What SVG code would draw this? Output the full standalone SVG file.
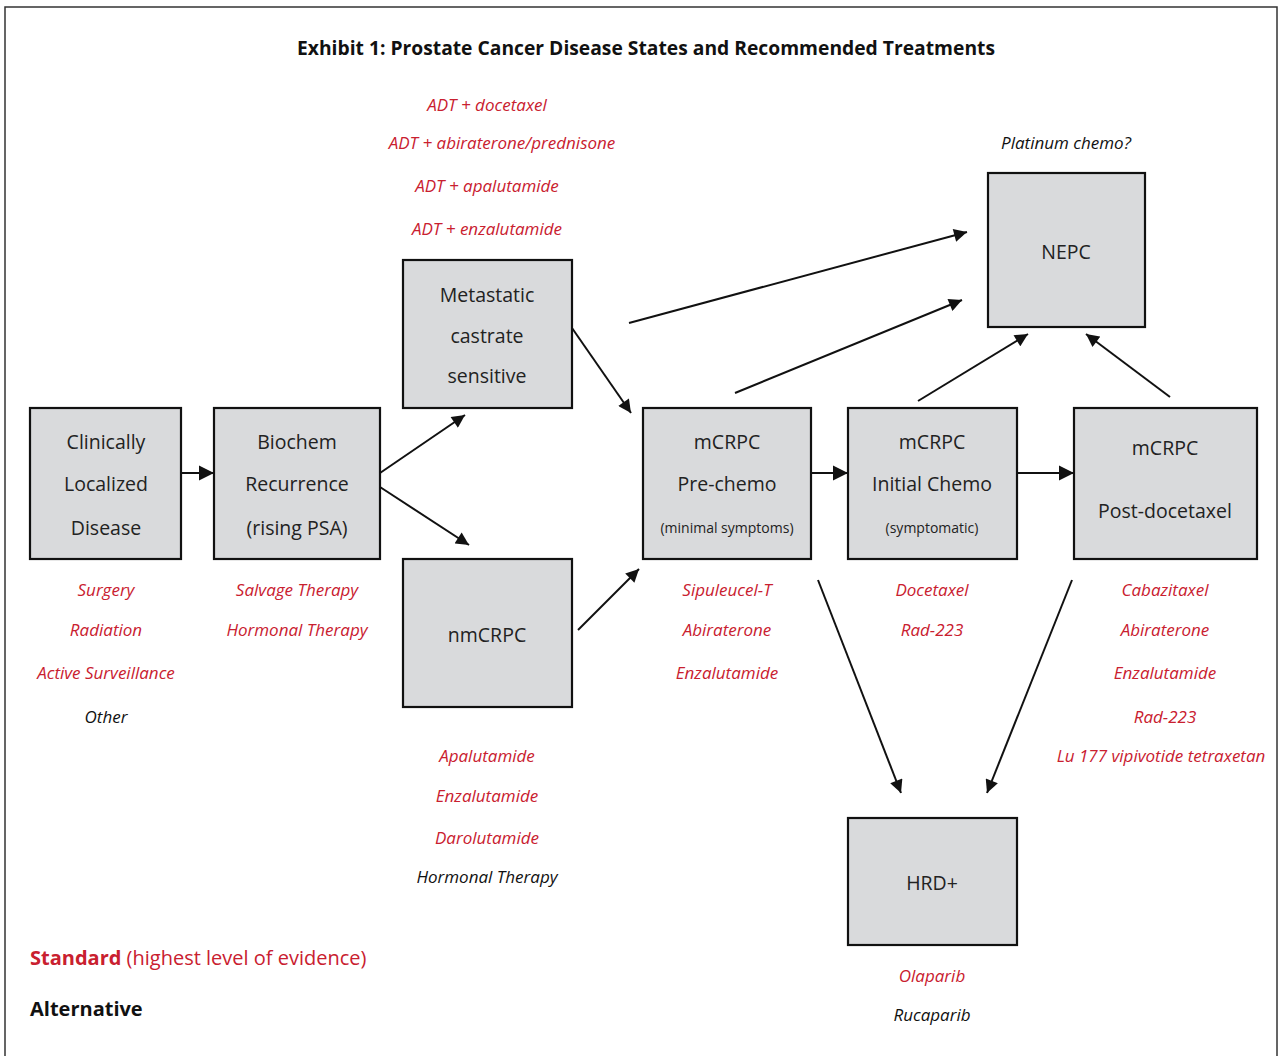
<svg xmlns="http://www.w3.org/2000/svg" width="1278" height="1056" viewBox="0 0 1278 1056">
<style>
.frame{fill:#fff;stroke:#333;stroke-width:1.5}
.box{fill:#d9dadc;stroke:#111;stroke-width:2.2}
.bt{font-family:"Open Sans","Liberation Sans",sans-serif;font-size:19.5px;fill:#222;text-anchor:middle}
.st{font-family:"Open Sans","Liberation Sans",sans-serif;font-size:14px;fill:#222;text-anchor:middle}
.red{font-family:"Open Sans","Liberation Sans",sans-serif;font-size:17px;font-style:italic;fill:#c9202f;text-anchor:middle}
.blk{font-family:"Open Sans","Liberation Sans",sans-serif;font-size:17px;font-style:italic;fill:#111;text-anchor:middle}
.title{font-family:"Open Sans","Liberation Sans",sans-serif;font-size:19px;font-weight:bold;fill:#111;text-anchor:middle}
.leg{font-family:"Open Sans","Liberation Sans",sans-serif;font-size:20px}
.con line{stroke:#111;stroke-width:2;fill:none}
</style>
<defs>
<marker id="ah" viewBox="0 0 10 10" refX="10" refY="5" markerWidth="14" markerHeight="13" markerUnits="userSpaceOnUse" orient="auto">
<path d="M0,0 L10,5 L0,10 z" fill="#111"/>
</marker>
<marker id="ahb" viewBox="0 0 10 10" refX="10" refY="5" markerWidth="15" markerHeight="17" markerUnits="userSpaceOnUse" orient="auto">
<path d="M0,0 L10,5 L0,10 z" fill="#111"/>
</marker>
</defs>
<rect class="frame" x="5" y="7" width="1272" height="1060"/>
<text class="title" x="646" y="55" textLength="698" lengthAdjust="spacingAndGlyphs">Exhibit 1: Prostate Cancer Disease States and Recommended Treatments</text>

<g id="clinically-localized">
<rect class="box" x="30" y="408" width="151" height="151"/>
<text class="bt" x="106" y="449">Clinically</text>
<text class="bt" x="106" y="491">Localized</text>
<text class="bt" x="106" y="535">Disease</text>
</g>
<g id="biochem">
<rect class="box" x="214" y="408" width="166" height="151"/>
<text class="bt" x="297" y="449">Biochem</text>
<text class="bt" x="297" y="491">Recurrence</text>
<text class="bt" x="297" y="535">(rising PSA)</text>
</g>
<g id="metastatic">
<rect class="box" x="403" y="260" width="169" height="148"/>
<text class="bt" x="487" y="302">Metastatic</text>
<text class="bt" x="487" y="343">castrate</text>
<text class="bt" x="487" y="383">sensitive</text>
</g>
<g id="nmcrpc">
<rect class="box" x="403" y="559" width="169" height="148"/>
<text class="bt" x="487" y="642">nmCRPC</text>
</g>
<g id="mcrpc-prechemo">
<rect class="box" x="643" y="408" width="168" height="151"/>
<text class="bt" x="727" y="449">mCRPC</text>
<text class="bt" x="727" y="491">Pre-chemo</text>
<text class="st" x="727" y="533">(minimal symptoms)</text>
</g>
<g id="mcrpc-initial">
<rect class="box" x="848" y="408" width="169" height="151"/>
<text class="bt" x="932" y="449">mCRPC</text>
<text class="bt" x="932" y="491">Initial Chemo</text>
<text class="st" x="932" y="533">(symptomatic)</text>
</g>
<g id="mcrpc-post">
<rect class="box" x="1074" y="408" width="183" height="151"/>
<text class="bt" x="1165" y="455">mCRPC</text>
<text class="bt" x="1165" y="518">Post-docetaxel</text>
</g>
<g id="nepc">
<rect class="box" x="988" y="173" width="157" height="154"/>
<text class="bt" x="1066" y="259">NEPC</text>
</g>
<g id="hrd">
<rect class="box" x="848" y="818" width="169" height="127"/>
<text class="bt" x="932" y="890">HRD+</text>
</g>

<g class="con" id="connectors">
<line x1="181" y1="473" x2="214" y2="473" marker-end="url(#ahb)"/>
<line x1="380" y1="473" x2="465" y2="415" marker-end="url(#ah)"/>
<line x1="380" y1="487" x2="469" y2="545" marker-end="url(#ah)"/>
<line x1="572" y1="328" x2="631" y2="413" marker-end="url(#ah)"/>
<line x1="578" y1="630" x2="639" y2="569" marker-end="url(#ah)"/>
<line x1="629" y1="323" x2="967" y2="232" marker-end="url(#ah)"/>
<line x1="735" y1="393" x2="962" y2="300" marker-end="url(#ah)"/>
<line x1="811" y1="473" x2="848" y2="473" marker-end="url(#ahb)"/>
<line x1="918" y1="401" x2="1028" y2="334" marker-end="url(#ah)"/>
<line x1="1017" y1="473" x2="1074" y2="473" marker-end="url(#ahb)"/>
<line x1="1170" y1="397" x2="1086" y2="334" marker-end="url(#ah)"/>
<line x1="818" y1="580" x2="901" y2="793" marker-end="url(#ah)"/>
<line x1="1072" y1="580" x2="987" y2="793" marker-end="url(#ah)"/>
</g>

<g id="labels">
<text class="red" x="487" y="111">ADT + docetaxel</text>
<text class="red" x="502" y="149">ADT + abiraterone/prednisone</text>
<text class="red" x="487" y="192">ADT + apalutamide</text>
<text class="red" x="487" y="235">ADT + enzalutamide</text>
<text class="blk" x="1066" y="149">Platinum chemo?</text>

<text class="red" x="106" y="596">Surgery</text>
<text class="red" x="106" y="636">Radiation</text>
<text class="red" x="106" y="679">Active Surveillance</text>
<text class="blk" x="106" y="723">Other</text>

<text class="red" x="297" y="596">Salvage Therapy</text>
<text class="red" x="297" y="636">Hormonal Therapy</text>

<text class="red" x="487" y="762">Apalutamide</text>
<text class="red" x="487" y="802">Enzalutamide</text>
<text class="red" x="487" y="844">Darolutamide</text>
<text class="blk" x="487" y="883">Hormonal Therapy</text>

<text class="red" x="727" y="596">Sipuleucel-T</text>
<text class="red" x="727" y="636">Abiraterone</text>
<text class="red" x="727" y="679">Enzalutamide</text>

<text class="red" x="932" y="596">Docetaxel</text>
<text class="red" x="932" y="636">Rad-223</text>

<text class="red" x="1165" y="596">Cabazitaxel</text>
<text class="red" x="1165" y="636">Abiraterone</text>
<text class="red" x="1165" y="679">Enzalutamide</text>
<text class="red" x="1165" y="723">Rad-223</text>
<text class="red" x="1161" y="762">Lu 177 vipivotide tetraxetan</text>

<text class="red" x="932" y="982">Olaparib</text>
<text class="blk" x="932" y="1021">Rucaparib</text>
</g>

<g id="legend">
<text class="leg" x="30" y="965" fill="#c9202f"><tspan font-weight="bold">Standard</tspan> (highest level of evidence)</text>
<text class="leg" x="30" y="1016" fill="#111" font-weight="bold">Alternative</text>
</g>
</svg>
